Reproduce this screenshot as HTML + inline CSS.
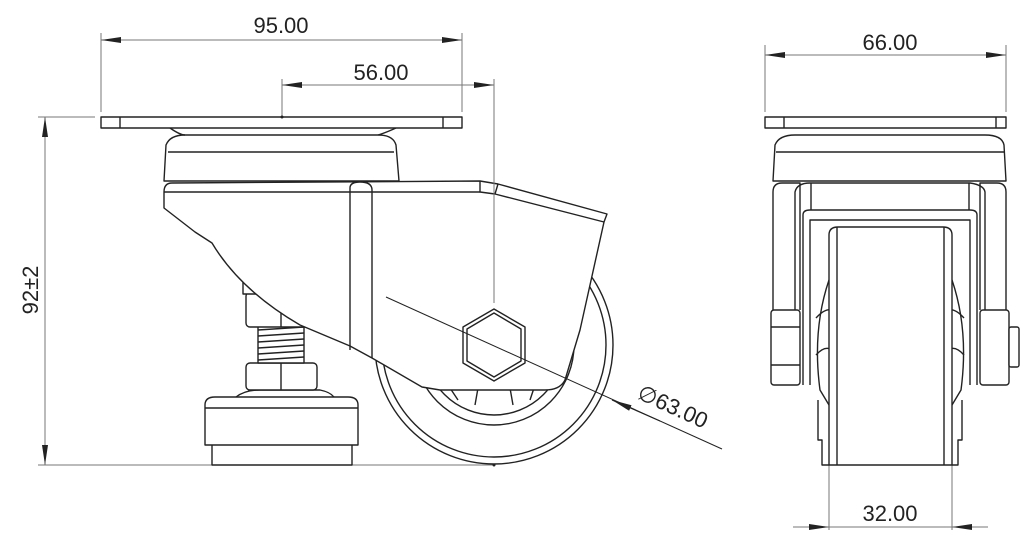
<!DOCTYPE html>
<html><head><style>
html,body{margin:0;padding:0;background:#fff}
svg{display:block}
text{font-family:"Liberation Sans",sans-serif;fill:#222}
</style></head><body>
<svg width="1033" height="535" viewBox="0 0 1033 535" xmlns="http://www.w3.org/2000/svg">
<defs>
<marker id="a" viewBox="0 0 20 6" refX="20" refY="3" markerWidth="20" markerHeight="6" markerUnits="userSpaceOnUse" orient="auto"><path d="M0,0 L20,3 L0,6 Z" fill="#222"/></marker>
</defs>
<g fill="none" stroke="#777" stroke-width="1">
<line x1="101" y1="33" x2="101" y2="112"/><line x1="462" y1="33" x2="462" y2="112"/>
<line x1="281" y1="40" x2="101" y2="40" marker-end="url(#a)"/><line x1="281" y1="40" x2="462" y2="40" marker-end="url(#a)"/>
<line x1="282" y1="79" x2="282" y2="117"/>
<line x1="388" y1="85" x2="282" y2="85" marker-end="url(#a)"/><line x1="388" y1="85" x2="494" y2="85" marker-end="url(#a)"/>
<line x1="38" y1="117" x2="95" y2="117"/><line x1="38" y1="465" x2="494" y2="465"/>
<line x1="45" y1="290" x2="45" y2="117" marker-end="url(#a)"/><line x1="45" y1="290" x2="45" y2="465" marker-end="url(#a)"/>
<line x1="765" y1="45" x2="765" y2="112"/><line x1="1006" y1="45" x2="1006" y2="112"/>
<line x1="885" y1="55" x2="765" y2="55" marker-end="url(#a)"/><line x1="885" y1="55" x2="1006" y2="55" marker-end="url(#a)"/>
<line x1="829" y1="465" x2="829" y2="530"/><line x1="952" y1="465" x2="952" y2="530"/>
<line x1="793" y1="527" x2="829" y2="527" marker-end="url(#a)"/><line x1="988" y1="527" x2="952" y2="527" marker-end="url(#a)"/>
<line x1="829" y1="527" x2="952" y2="527"/>
</g>
<text x="281" y="33" font-size="22" text-anchor="middle">95.00</text>
<text x="381" y="80" font-size="22" text-anchor="middle">56.00</text>
<text x="890" y="50" font-size="22" text-anchor="middle">66.00</text>
<text x="890" y="521" font-size="22" text-anchor="middle">32.00</text>
<text transform="translate(38,290) rotate(-90)" font-size="22" text-anchor="middle">92±2</text>
<text transform="translate(636,398) rotate(24.5)" font-size="22">∅63.00</text>

<g fill="#fff" stroke="#222" stroke-width="1.4" stroke-linejoin="round">
<circle cx="494" cy="345" r="119"/>
<circle cx="494" cy="345" r="112"/>
<circle cx="494" cy="345" r="80"/>
<circle cx="494" cy="345" r="70"/>
<path d="M450,388 L458,400 M478,388 L475,405 M510,388 L513,405 M535,385 L530,400" fill="none"/>
<rect x="212" y="440" width="140" height="25"/>
<path d="M205,445 L205,405 Q205,397 215,397 L348,397 Q358,397 358,405 L358,445 Z"/>
<line x1="205" y1="408" x2="358" y2="408"/>
<path d="M236,397 Q245,390 260,390 L320,390 Q330,392 334,397" fill="none"/>
<rect x="246" y="363" width="71" height="27" rx="4"/>
<line x1="281" y1="363" x2="281" y2="390"/>
<rect x="258" y="325" width="46" height="38"/>
<path d="M258,330 L304,327 M258,336 L304,333 M258,342 L304,339 M258,348 L304,345 M258,354 L304,351 M258,360 L304,357" fill="none"/>
<rect x="246" y="292" width="71" height="35" rx="4"/>
<line x1="281" y1="292" x2="281" y2="327"/>
<rect x="243" y="270" width="20" height="24"/>
<path d="M164,181 L166,145 Q170,135 185,135 L378,135 Q393,135 396,145 L399,181 Z"/>
<line x1="168" y1="152" x2="394" y2="152"/>
<path d="M170,128 Q180,135 185,135 M378,135 Q385,133 396,128" fill="none"/>
<rect x="101" y="117" width="361" height="11"/>
<line x1="120" y1="117" x2="120" y2="128"/><line x1="443" y1="117" x2="443" y2="128"/>
<path d="M164,192 Q164,183 172,183 L480,181 L498,184 L607,214 L604,222 L580,330 L565,380 Q560,390 545,390 L440,390 L422,387 L372,358 L350,346 L300,325 Q240,290 212,243 L195,232 L164,208 Z"/>
<line x1="164" y1="192" x2="480" y2="192"/>
<path d="M480,181 L480,192 L495,194 L604,222 M498,184 L495,194" fill="none"/>
<path d="M350,350 L350,188 Q350,182 360,182 Q372,182 372,190 L372,358" fill="none"/>
<polygon points="494,309 525,327 525,363 494,381 463,363 463,327"/>
<polygon points="494,313 521,329 521,361 494,377 467,361 467,329"/>

<rect x="765" y="117" width="241" height="11"/>
<line x1="784" y1="117" x2="784" y2="128"/><line x1="996" y1="117" x2="996" y2="128"/>
<path d="M773,181 L775,145 Q779,135 795,135 L985,135 Q1002,135 1004,145 L1006,181 Z"/>
<line x1="776" y1="152" x2="1004" y2="152"/>
<path d="M773,310 L773,192 Q773,183 782,183 L800,183 L800,310"/>
<path d="M1006,310 L1006,192 Q1006,183 997,183 L980,183 L980,310"/>
<path d="M795,385 L795,192 Q797,183 810,183 L970,183 Q984,185 985,192 L985,385" fill="none"/>
<path d="M803,385 L803,215 Q803,210 810,210 L970,210 Q977,210 977,215 L977,385" fill="none"/>
<path d="M810,385 L810,220 L970,220 L970,385" fill="none"/>
<line x1="811" y1="183" x2="811" y2="210"/><line x1="969" y1="183" x2="969" y2="210"/>
<rect x="771" y="310" width="29" height="75" rx="3"/>
<line x1="771" y1="327" x2="800" y2="327"/><line x1="771" y1="365" x2="800" y2="365"/>
<rect x="980" y="310" width="29" height="75" rx="3"/>
<rect x="1009" y="327" width="10" height="40" rx="2"/>
<path d="M829,280 Q812,330 820,390 L829,405" fill="none"/>
<path d="M952,280 Q969,330 961,390 L952,405" fill="none"/>
<path d="M818,400 L818,440 L822,440 L822,465 L829,465 M962,400 L962,440 L958,440 L958,465 L952,465" fill="none"/>
<path d="M816,318 Q825,308 832,310 M816,355 Q825,345 832,350 M964,318 Q955,308 948,310 M964,355 Q955,345 948,350" fill="none"/>
<path d="M829,465 L829,235 Q829,227 838,227 L943,227 Q952,227 952,235 L952,465 Z"/>
<line x1="837" y1="227" x2="837" y2="465"/><line x1="944" y1="227" x2="944" y2="465"/>
</g>
<g fill="none" stroke-width="1">
<line x1="494" y1="79" x2="494" y2="303" stroke="#777"/>
<line x1="386" y1="297" x2="722" y2="449" stroke="#222"/>
<line x1="660" y1="421" x2="612" y2="400" stroke="#222" marker-end="url(#a)"/>
</g>
<g fill="#222"><circle cx="282" cy="117" r="1.5"/><circle cx="494" cy="465" r="1.5"/></g>
</svg>
</body></html>
